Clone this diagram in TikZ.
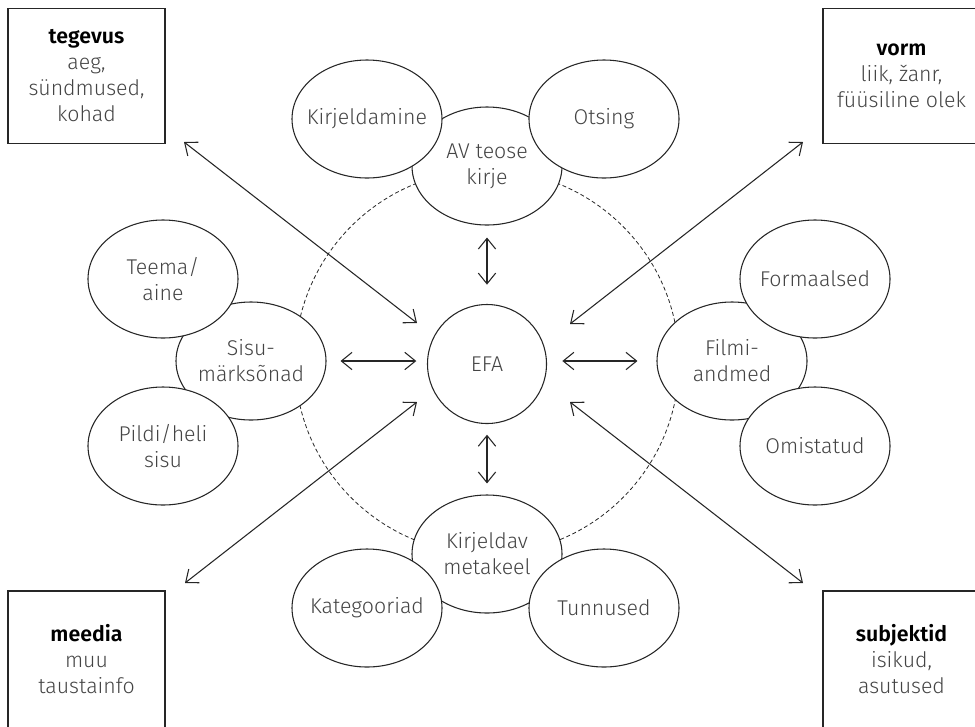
\documentclass[tikz,border=0pt]{standalone}
\usepackage{fontspec}
\setmainfont{Fira Sans Light}[BoldFont={Fira Sans SemiBold}]
\usepackage{tikz}
\usetikzlibrary{arrows.meta,shapes.geometric}
\definecolor{InkGray}{HTML}{444444}
\definecolor{LineGray}{HTML}{262626}

\begin{document}
\begin{tikzpicture}[x=0.75pt,y=-0.75pt,line width=0.8pt,color=LineGray,
    font=\fontsize{16}{19.5}\selectfont,
    oval/.style={ellipse, draw, fill=white, minimum width=112.5pt, minimum height=88.5pt,
        inner xsep=-8pt, inner ysep=0pt, align=center, text=InkGray},
    corner/.style={draw, minimum width=117.75pt, minimum height=101.25pt,
        inner sep=0pt, align=center, text=InkGray},
    link/.style={{Straight Barb[length=8pt,width=13pt]}-{Straight Barb[length=8pt,width=13pt]}}]
    \useasboundingbox (0,0) rectangle (975,726);

    % dashed ring behind everything
    \draw[line width=0.6pt, dash pattern=on 3pt off 2pt] (487,362) circle [radius=144pt];

    % main groups
    \node[oval] (kirje) at (487,166) {AV teose\\kirje};
    \node[oval] (sisu) at (251,361) {Sisu-\\märksõnad};
    \node[oval] (film) at (732,361) {Filmi-\\andmed};
    \node[oval] (metakeel) at (487,554) {Kirjeldav\\metakeel};

    % satellites
    \node[oval] (kirjeldamine) at (367,119) {Kirjeldamine};
    \node[oval] (otsing) at (604,119) {Otsing};
    \node[oval] (teema) at (163,279) {Teema/\\aine};
    \node[oval] (pilt) at (163,446) {Pildi/heli\\sisu};
    \node[oval] (formaal) at (815,279) {Formaalsed};
    \node[oval] (omist) at (815,446) {Omistatud};
    \node[oval] (kateg) at (367,608) {Kategooriad};
    \node[oval] (tunnus) at (604,608) {Tunnused};

    \node[circle, draw, minimum size=89.25pt, inner sep=0pt, text=InkGray] (efa) at (487,364) {EFA};

    % corner boxes
    \node[corner] (tegevus) at (86.5,76) {\textbf{\color{black}tegevus}\\aeg,\\sündmused,\\kohad};
    \node[corner] (vorm) at (901.5,76) {\textbf{\color{black}vorm}\\liik, žanr,\\füüsiline olek};
    \node[corner, minimum height=102.75pt] (meedia) at (86.5,659.5) {\textbf{\color{black}meedia}\\muu\\taustainfo};
    \node[corner, minimum height=102.75pt] (subj) at (901.5,659.5) {\textbf{\color{black}subjektid}\\isikud,\\asutused};

    % arrows
    \draw[link, shorten <=9pt, shorten >=14.5pt] (kirje) -- (efa);
    \draw[link, shorten <=8pt, shorten >=8.25pt] (efa) -- (metakeel);
    \draw[link, shorten <=10.5pt, shorten >=8pt] (sisu.east |- 0,361) -- (efa.west |- 0,361);
    \draw[link, shorten <=11.5pt, shorten >=14.25pt] (efa.east |- 0,361) -- (film.west |- 0,361);

    \coordinate (tl) at (184,142);
    \coordinate (tr) at (803,142);
    \coordinate (bl) at (185,583);
    \coordinate (br) at (803,583);
    \coordinate (efatl) at (417,323);
    \coordinate (efatr) at (570,324);
    \coordinate (efabl) at (417,402);
    \coordinate (efabr) at (570,402);
    \draw[link] (tl) -- (efatl);
    \draw[link] (tr) -- (efatr);
    \draw[link] (bl) -- (efabl);
    \draw[link] (br) -- (efabr);
\end{tikzpicture}
\end{document}
